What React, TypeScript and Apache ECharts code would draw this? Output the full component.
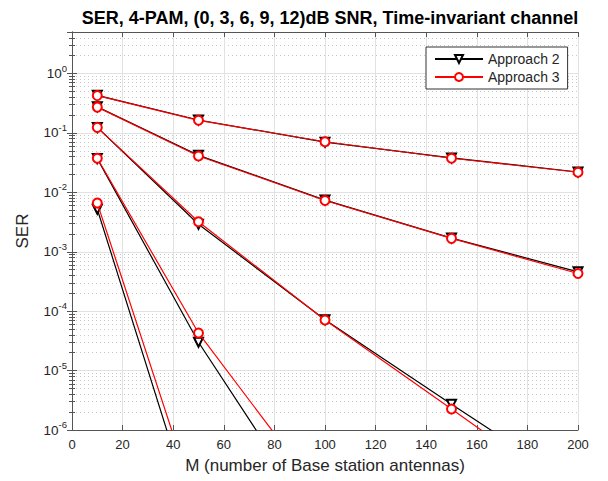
import React, { useEffect, useRef } from "react";
import * as echarts from "echarts";

const M = [10, 50, 100, 150, 200];

const snr0A2 = [0.43, 0.165, 0.07, 0.038, 0.022];
const snr0A3 = [0.425, 0.163, 0.071, 0.0375, 0.0218];
const snr3A2 = [0.275, 0.042, 0.0074, 0.0017, 0.00046];
const snr3A3 = [0.272, 0.041, 0.0073, 0.00168, 0.00043];
const snr6A2 = [0.124, 0.0029, 0.000072, 0.0000027, 1.1e-7];
const snr6A3 = [0.124, 0.0032, 0.000071, 0.00000225, 7e-8];
const snr9A2 = [0.037, 0.00003, 1.7e-8, 1e-11, 6e-15];
const snr9A3 = [0.0375, 0.000043, 6.5e-8, 1e-10, 1.5e-13];
const snr12A2 = [0.0052, 2e-8, 1e-13, 1e-18, 1e-23];
const snr12A3 = [0.0066, 4.2e-8, 3e-13, 2e-18, 1e-23];

const approach2 = [snr0A2, snr3A2, snr6A2, snr9A2, snr12A2];
const approach3 = [snr0A3, snr3A3, snr6A3, snr9A3, snr12A3];

const xTicks = { min: 0, max: 200, interval: 20 };
const yRange = { min: 1e-6, max: 5 };

const FONT = "'Liberation Sans', Arial, Helvetica, sans-serif";

export default function App() {
  const ref = useRef<HTMLDivElement>(null);
  useEffect(() => {
    const chart = echarts.init(ref.current!, null, { renderer: "svg" });
    const mk = (vals: number[]) => vals.map((v, i) => [M[i], v]);
    const series: any[] = [];
    approach2.forEach((vals) => {
      series.push({
        type: "line",
        name: "Approach 2",
        data: mk(vals),
        symbol: "emptyTriangle",
        symbolRotate: 180,
        symbolSize: 9,
        lineStyle: { color: "#000", width: 1.2 },
        itemStyle: { color: "#000", borderColor: "#000", borderWidth: 1.3 },
        clip: true,
        z: 3,
      });
    });
    approach3.forEach((vals) => {
      series.push({
        type: "line",
        name: "Approach 3",
        data: mk(vals),
        symbol: "emptyCircle",
        symbolSize: 9,
        lineStyle: { color: "#ff0000", width: 1.2 },
        itemStyle: { color: "#ff0000", borderColor: "#ff0000", borderWidth: 1.3 },
        clip: true,
        z: 4,
      });
    });

    const axisColor = "#555";
    const labelColor = "#262626";
    const yFormatter = (value: number) => {
      const e = Math.round(Math.log10(value));
      if (Math.abs(value - Math.pow(10, e)) / Math.pow(10, e) > 1e-6) return "";
      return `{b|10}{s|${e}}`;
    };

    chart.setOption({
      animation: false,
      backgroundColor: "#fff",
      title: {
        text: "SER, 4-PAM, (0, 3, 6, 9, 12)dB SNR, Time-invariant channel",
        left: 325,
        textAlign: "center",
        top: 4,
        textStyle: { fontFamily: FONT, fontSize: 18, fontWeight: "bold", color: "#000" },
      },
      legend: {
        orient: "vertical",
        left: 426,
        top: 47,
        padding: [5, 8, 5, 8],
        itemGap: 4,
        itemWidth: 48,
        itemHeight: 10,
        borderColor: "#333",
        borderWidth: 1,
        backgroundColor: "#fff",
        textStyle: { fontFamily: FONT, fontSize: 14, color: labelColor },
        data: ["Approach 2", "Approach 3"],
      },
      grid: { left: 72, top: 32, width: 506, height: 398, containLabel: false },
      xAxis: [
        {
          type: "value",
          position: "bottom",
          ...xTicks,
          name: "M (number of Base station antennas)",
          nameLocation: "middle",
          nameGap: 27,
          nameTextStyle: { fontFamily: FONT, fontSize: 17, color: labelColor },
          axisLine: { show: true, lineStyle: { color: axisColor, width: 1 } },
          axisTick: { show: true, inside: true, length: 5, lineStyle: { color: axisColor } },
          axisLabel: { fontFamily: FONT, fontSize: 13, color: labelColor, margin: 8 },
          splitLine: { show: true, lineStyle: { color: "#e2e2e2", width: 1 } },
        },
        {
          type: "value",
          position: "top",
          ...xTicks,
          axisLine: { show: true, lineStyle: { color: axisColor, width: 1 } },
          axisTick: { show: true, inside: true, length: 5, lineStyle: { color: axisColor } },
          axisLabel: { show: false },
          splitLine: { show: false },
        },
      ],
      yAxis: [
        {
          type: "log",
          logBase: 10,
          position: "left",
          ...yRange,
          interval: 1,
          name: "SER",
          nameLocation: "middle",
          nameGap: 41,
          nameTextStyle: { fontFamily: FONT, fontSize: 17, color: labelColor },
          axisLine: { show: true, lineStyle: { color: axisColor, width: 1 } },
          axisTick: { show: true, inside: true, length: 5, lineStyle: { color: axisColor } },
          minorTick: { show: true, splitNumber: 9, length: 3, lineStyle: { color: axisColor } },
          minorSplitLine: { show: true, lineStyle: { color: "#c8c8c8", type: [1, 3], width: 1 } },
          axisLabel: {
            fontFamily: FONT,
            color: labelColor,
            margin: 5,
            formatter: yFormatter,
            rich: {
              b: { fontFamily: FONT, fontSize: 13.5, color: labelColor },
              s: { fontFamily: FONT, fontSize: 9.5, color: labelColor, padding: [0, 0, 11, 0] },
            },
          },
          splitLine: { show: true, lineStyle: { color: "#e2e2e2", width: 1 } },
        },
        {
          type: "log",
          logBase: 10,
          position: "right",
          ...yRange,
          interval: 1,
          axisLine: { show: true, lineStyle: { color: axisColor, width: 1 } },
          axisTick: { show: true, inside: true, length: 5, lineStyle: { color: axisColor } },
          minorTick: { show: true, splitNumber: 9, length: 3, lineStyle: { color: axisColor } },
          axisLabel: { show: false },
          splitLine: { show: false },
        },
      ],
      series,
    });
    return () => chart.dispose();
  }, []);
  return (
    <div
      ref={ref}
      style={{ position: "absolute", left: 0, top: 0, width: 608, height: 481 }}
    />
  );
}
